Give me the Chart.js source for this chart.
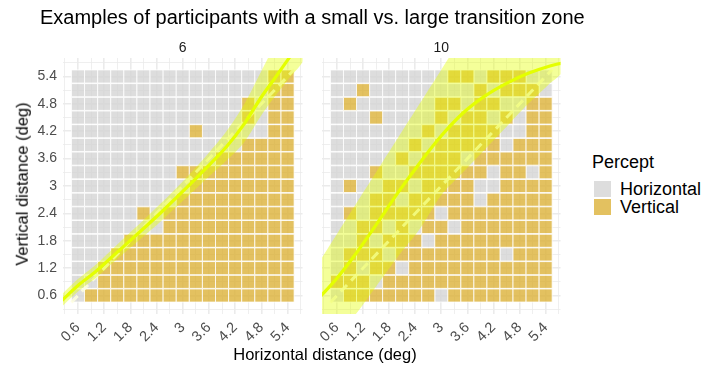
<!DOCTYPE html>
<html>
<head>
<meta charset="utf-8">
<title>Transition zone examples</title>
<script src="https://cdn.jsdelivr.net/npm/chart.js@4.4.1/dist/chart.umd.min.js"></script>
<style>
  html, body { margin: 0; padding: 0; background: #ffffff; }
  body { width: 718px; height: 368px; position: relative; overflow: hidden;
         font-family: "Liberation Sans", Arial, Helvetica, sans-serif; }
  canvas { position: absolute; top: 0; }
  .txt { position: absolute; white-space: nowrap; line-height: 1; }
  .swatch { position: absolute; width: 19px; height: 18px; box-sizing: border-box; border: 1px solid #ffffff; }
</style>
</head>
<body>
<canvas id="panel6" width="318" height="368" style="left:0px"></canvas>
<canvas id="panel10" width="257" height="368" style="left:319px"></canvas>

<div class="txt" style="left:40px;top:17px;transform:translateY(-50%);font-size:20px;color:#000">Examples of participants with a small vs. large transition zone</div>
<div class="txt" id="strip6" style="top:47px;transform:translate(-50%,-50%);font-size:14px;color:#1A1A1A"></div>
<div class="txt" id="strip10" style="top:47px;transform:translate(-50%,-50%);font-size:14px;color:#1A1A1A"></div>
<div class="txt" style="left:325px;top:354px;transform:translate(-50%,-50%);font-size:16.5px;color:#000">Horizontal distance (deg)</div>
<div class="txt" style="left:22px;top:184px;transform:translate(-50%,-50%) rotate(-90deg);font-size:16.5px;color:#000">Vertical distance (deg)</div>

<div class="txt" style="left:592px;top:162px;transform:translateY(-50%);font-size:18px;color:#000">Percept</div>
<div class="swatch" style="left:593px;top:180px;background:#DDDDDD"></div>
<div class="swatch" style="left:593px;top:198px;background:#E3C160"></div>
<div class="txt" style="left:620px;top:189px;transform:translateY(-50%);font-size:18px;color:#000">Horizontal</div>
<div class="txt" style="left:620px;top:207px;transform:translateY(-50%);font-size:18px;color:#000">Vertical</div>

<script>
// ---- data ---------------------------------------------------------------
const participants = ['6', '10'];

// tile centres used on both axes (deg)
const tileSteps = [0.6, 0.9, 1.2, 1.5, 1.8, 2.1, 2.4, 2.7, 3.0, 3.3, 3.6, 3.9, 4.2, 4.5, 4.8, 5.1, 5.4];
const tileSize = 0.3;

// axis ticks
const gridTicks = [0.3, 0.6, 0.9, 1.2, 1.5, 1.8, 2.1, 2.4, 2.7, 3.0, 3.3, 3.6, 3.9, 4.2, 4.5, 4.8, 5.1, 5.4, 5.7];
const majorTicks = [0.6, 1.2, 1.8, 2.4, 3.0, 3.6, 4.2, 4.8, 5.4];
const majorLabels = ['0.6', '1.2', '1.8', '2.4', '3', '3.6', '4.2', '4.8', '5.4'];
const xRange = [0.257, 5.743];
const yRange = [0.195, 5.805];

// percept per tile: one string per vertical distance (bottom row first),
// one letter per horizontal distance; H = Horizontal, V = Vertical
const percept6 = [
  'HVVVVVVVVVVVVVVVV',
  'HHVVVVVVVVVVVVVVV',
  'HHVVVVVVVVVVVVVVV',
  'HHHVVVVVVVVVVVVVV',
  'HHHHVVVVVVVVVVVVV',
  'HHHHHHHVVVVVVVVVV',
  'HHHHHVHVVVVVVVVVV',
  'HHHHHHHHVVVVVVVVV',
  'HHHHHHHHHVVVVVVVV',
  'HHHHHHHHVVVVVVVVV',
  'HHHHHHHHHHHVVVVVV',
  'HHHHHHHHHHHHHVVVV',
  'HHHHHHHHHVHHHHHVV',
  'HHHHHHHHHHHHHVHVV',
  'HHHHHHHHHHHHHVHVV',
  'HHHHHHHHHHHHHHHVV',
  'HHHHHHHHHHHHHHHVV'
];
const percept10 = [
  'HVVVVVVVHVVVVVVVV',
  'VVVHVVVVVVVVVVVVV',
  'HVHVVHVVVVVVVVVVV',
  'HVVVHVVVVVVVVHVVV',
  'HHVHVVVHVVVVVVVVV',
  'HHVVHVHVVHVVVVVVV',
  'HVHVVVVVHVVVVVVVV',
  'HHHVVHVVVVVHVVVVV',
  'HVHHVVHVVVVHHVVVV',
  'HHHVHHVVVVVVHVVHV',
  'HHHHHVHVVVHVVVVVV',
  'HHHHHHVHVVVVVHVVV',
  'HHHHHHHVHVVVVHHVV',
  'HHHVHHHHVHVVHVHVV',
  'HVHHHHHHVVHVVHHVV',
  'HHVHHHHHHHHVHVVVH',
  'HHHHHHHHHVVHVVVHH'
];

// fitted transition curve and its confidence band
const curveX6 = [0.2, 0.6, 1.0, 1.5, 2.0, 2.5, 3.0, 3.5, 4.0, 4.4, 4.8, 5.1, 5.4, 5.8];
const curveY6 = [0.46, 0.82, 1.12, 1.55, 1.98, 2.42, 2.88, 3.36, 3.86, 4.35, 4.95, 5.35, 5.76, 6.3];
const bandHi6 = [0.60, 0.96, 1.27, 1.72, 2.16, 2.62, 3.10, 3.62, 4.20, 4.78, 5.52, 6.08, 6.60, 7.3];
const bandLo6 = [0.33, 0.69, 0.98, 1.40, 1.81, 2.23, 2.67, 3.12, 3.56, 3.95, 4.55, 4.95, 5.32, 5.85];

const curveX10 = [0.2, 0.6, 1.0, 1.5, 2.0, 2.5, 3.0, 3.5, 4.0, 4.5, 5.0, 5.5, 5.8];
const curveY10 = [0.56, 0.98, 1.47, 2.15, 2.85, 3.5, 4.1, 4.6, 4.97, 5.25, 5.47, 5.63, 5.7];
const bandHi10 = [1.35, 1.95, 2.55, 3.3, 4.05, 4.8, 5.55, 6.3, 7.0, 7.6, 8.0, 8.3, 8.5];
const bandLo10 = [-0.8, -0.3, 0.15, 0.8, 1.45, 2.05, 2.8, 3.3, 3.8, 4.3, 4.8, 5.25, 5.55];

// equal-distance reference line
const identityEnds = [0.45, 5.55];

// ---- styling --------------------------------------------------------------
const FONT = '"Liberation Sans", Arial, Helvetica, sans-serif';
const COL_H = 'rgba(212,212,212,0.8)';
const COL_V = 'rgba(220,178,56,0.8)';
const COL_CURVE = 'rgb(228,255,0)';
const COL_BAND = 'rgba(228,255,0,0.4)';
const COL_DASH = 'rgba(255,255,225,0.85)';

// ---- helpers --------------------------------------------------------------
function tilePoints(rows, code) {
  const pts = [];
  rows.forEach((row, j) => {
    for (let i = 0; i < row.length; i++) {
      if (row[i] === code) pts.push({ x: tileSteps[i], y: tileSteps[j] });
    }
  });
  return pts;
}
function curvePoints(xs, ys) { return xs.map((x, k) => ({ x: x, y: ys[k] })); }
function bandPoints(xs, hi, lo) {
  const upper = xs.map((x, k) => ({ x: x, y: hi[k] }));
  const lower = xs.map((x, k) => ({ x: x, y: lo[k] })).reverse();
  return upper.concat(lower);
}
// side of a square tile in pixels, converted to a 'rect' point radius
function tileRadius(ctx) {
  const s = ctx.chart.scales.x;
  return Math.abs(s.getPixelForValue(tileSize) - s.getPixelForValue(0)) / Math.SQRT2;
}
function majorIndex(v) { return majorTicks.findIndex(m => Math.abs(m - v) < 1e-6); }
function gridWidth(c) { return (c.tick && majorIndex(c.tick.value) >= 0) ? 1.6 : 0.8; }

function scaleOptions(range, isX, showLabels, fit) {
  return {
    type: 'linear',
    min: range[0],
    max: range[1],
    afterBuildTicks: s => { s.ticks = gridTicks.map(v => ({ value: v })); },
    afterFit: s => { if (isX) s.height = fit; else s.width = fit; },
    border: { display: false },
    grid: { drawTicks: false, color: '#EBEBEB', lineWidth: gridWidth },
    ticks: {
      display: showLabels,
      autoSkip: false,
      minRotation: isX ? 45 : 0,
      maxRotation: isX ? 45 : 0,
      padding: isX ? 5 : 6,
      color: '#4D4D4D',
      font: { family: FONT, size: isX ? 14.5 : 14 },
      callback: v => { const k = majorIndex(v); return k < 0 ? '' : majorLabels[k]; }
    }
  };
}

function makePanel(id, rows, cx, cy, hi, lo, showY, padding) {
  return new Chart(document.getElementById(id), {
    type: 'scatter',
    data: {
      datasets: [
        {
          label: 'curve', data: curvePoints(cx, cy), showLine: true, order: 0,
          borderColor: COL_CURVE, borderWidth: 3.2, pointRadius: 0, fill: false,
          cubicInterpolationMode: 'monotone', clip: 0
        },
        {
          label: 'band', data: bandPoints(cx, hi, lo), showLine: true, order: 1,
          borderWidth: 0, borderColor: 'rgba(0,0,0,0)', backgroundColor: COL_BAND,
          fill: 'shape', pointRadius: 0, tension: 0.3, capBezierPoints: false, clip: 0
        },
        {
          label: 'identity', data: identityEnds.map(v => ({ x: v, y: v })), showLine: true, order: 2,
          borderColor: COL_DASH, borderWidth: 3, borderDash: [9, 6], pointRadius: 0, fill: false, clip: 0
        },
        {
          label: 'Vertical', data: tilePoints(rows, 'V'), order: 3,
          pointStyle: 'rect', pointRadius: tileRadius, backgroundColor: COL_V,
          borderColor: '#FFFFFF', borderWidth: 0.8
        },
        {
          label: 'Horizontal', data: tilePoints(rows, 'H'), order: 4,
          pointStyle: 'rect', pointRadius: tileRadius, backgroundColor: COL_H,
          borderColor: '#FFFFFF', borderWidth: 0.8
        }
      ]
    },
    options: {
      responsive: false,
      animation: false,
      devicePixelRatio: 1,
      events: [],
      layout: { padding: padding },
      plugins: { legend: { display: false }, tooltip: { enabled: false } },
      scales: {
        x: scaleOptions(xRange, true, true, 54),
        y: scaleOptions(yRange, false, showY, showY ? 63 : 0)
      }
    }
  });
}

const chart6 = makePanel('panel6', percept6, curveX6, curveY6, bandHi6, bandLo6, true,
  { top: 58, right: 4, left: 0, bottom: 0 });
const chart10 = makePanel('panel10', percept10, curveX10, curveY10, bandHi10, bandLo10, false,
  { top: 58, right: 4, left: 2, bottom: 0 });

// facet strip labels centred over each plotting area
[[chart6, 'strip6', 0], [chart10, 'strip10', 319]].forEach(([ch, id, offset], k) => {
  const el = document.getElementById(id);
  el.textContent = participants[k];
  el.style.left = (offset + (ch.chartArea.left + ch.chartArea.right) / 2) + 'px';
});
</script>
</body>
</html>
